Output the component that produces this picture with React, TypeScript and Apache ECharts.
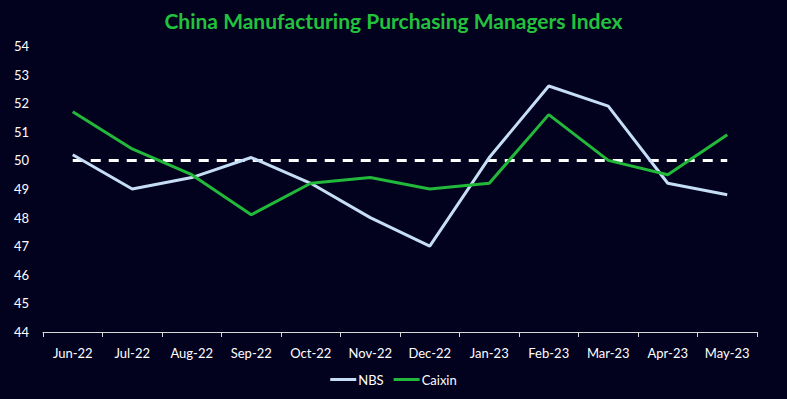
import React, { useEffect, useRef } from "react";
import * as echarts from "echarts";

const categories = ["Jun-22", "Jul-22", "Aug-22", "Sep-22", "Oct-22", "Nov-22", "Dec-22", "Jan-23", "Feb-23", "Mar-23", "Apr-23", "May-23"];
const nbs = [50.2, 49.0, 49.4, 50.1, 49.2, 48.0, 47.0, 50.1, 52.6, 51.9, 49.2, 48.8];
const caixin = [51.7, 50.4, 49.5, 48.1, 49.2, 49.4, 49.0, 49.2, 51.6, 50.0, 49.5, 50.9];
const threshold = [50, 50, 50, 50, 50, 50, 50, 50, 50, 50, 50, 50];

export default function App() {
  const ref = useRef<HTMLDivElement>(null);
  useEffect(() => {
    if (!ref.current) return;
    const chart = echarts.init(ref.current, null, { renderer: "svg" });
    const font = "Lato";
    chart.setOption({
      animation: false,
      backgroundColor: "#02021f",
      title: {
        text: "China Manufacturing Purchasing Managers Index",
        left: "center",
        top: 5,
        textStyle: { color: "#22c23c", fontSize: 21, fontWeight: "bold", fontFamily: font },
      },
      legend: {
        bottom: 8,
        left: "center",
        itemWidth: 26,
        itemHeight: 3,
        itemGap: 10,
        icon: "rect",
        data: ["NBS", "Caixin"],
        textStyle: { color: "#ffffff", fontSize: 13, fontFamily: font, padding: [0, 0, 0, -3] },
      },
      grid: { left: 43, right: 30, top: 46, bottom: 67 },
      xAxis: {
        type: "category",
        data: categories,
        boundaryGap: true,
        axisLine: { show: true, lineStyle: { color: "#d9d9d9", width: 1 } },
        axisTick: { show: true, length: 5, lineStyle: { color: "#d9d9d9" } },
        axisLabel: { color: "#ffffff", fontSize: 13, fontFamily: font, margin: 14 },
      },
      yAxis: {
        type: "value",
        min: 44,
        max: 54,
        interval: 1,
        axisLine: { show: false },
        axisTick: { show: false },
        splitLine: { show: false },
        axisLabel: { color: "#ffffff", fontSize: 13, fontFamily: font, margin: 14 },
      },
      series: [
        {
          name: "threshold",
          type: "line",
          data: threshold,
          symbol: "none",
          silent: true,
          lineStyle: { color: "#ffffff", width: 3, type: [10, 8] },
          z: 1,
        },
        {
          name: "NBS",
          type: "line",
          data: nbs,
          symbol: "none",
          color: "#c6def5",
          lineStyle: { color: "#c6def5", width: 3 },
          z: 2,
        },
        {
          name: "Caixin",
          type: "line",
          data: caixin,
          symbol: "none",
          color: "#22b83a",
          lineStyle: { color: "#22b83a", width: 3 },
          z: 3,
        },
      ],
    });
    return () => chart.dispose();
  }, []);
  return <div ref={ref} style={{ width: 787, height: 399, position: "absolute", left: 0, top: 0 }} />;
}
